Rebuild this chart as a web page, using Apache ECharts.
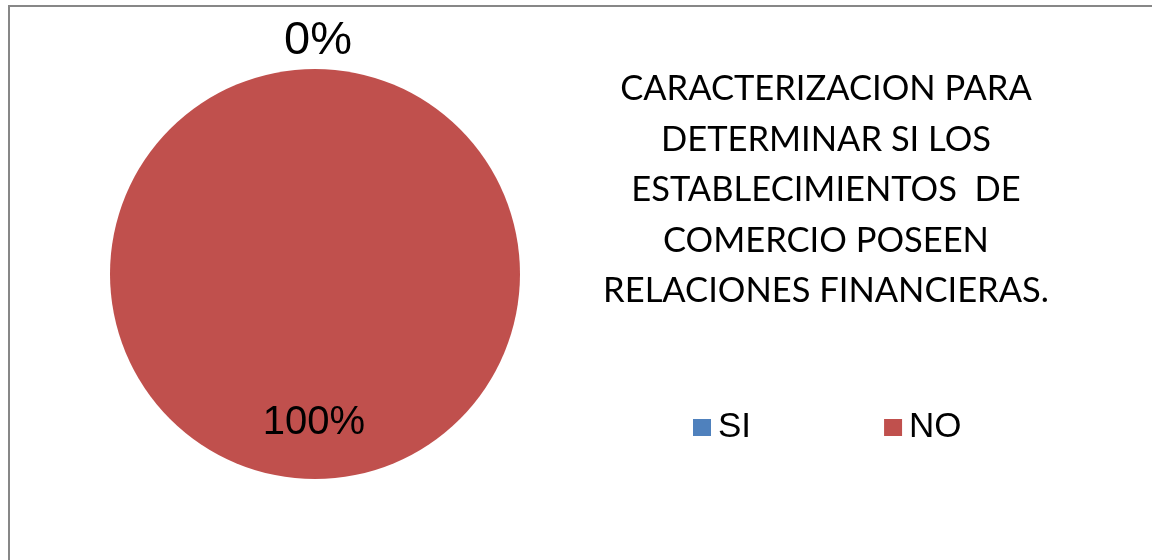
<!DOCTYPE html>
<html>
<head>
  <meta charset="utf-8">
  <script src="https://cdn.jsdelivr.net/npm/echarts@6/dist/echarts.min.js"></script>
  <style>
    body { margin: 0; background: #fff; }
    #frame { position: absolute; left: 8px; top: 5px; width: 2000px; height: 2000px; border: 2px solid #878787; }
    #chart { position: absolute; left: 0; top: 0; width: 1152px; height: 560px; }
  </style>
</head>
<body>
  <div id="frame"></div>
  <div id="chart"></div>
  <script>
    // datos del grafico
    var categories = ['SI', 'NO'];
    var values = [0, 100];
    var colors = ['#4F81BD', '#C0504D'];
    var titleLines = [
      'CARACTERIZACION PARA',
      'DETERMINAR SI LOS',
      'ESTABLECIMIENTOS  DE',
      'COMERCIO POSEEN',
      'RELACIONES FINANCIERAS.'
    ];

    var chart = echarts.init(document.getElementById('chart'));

    var pieData = categories.map(function (name, i) {
      var item = { name: name, value: values[i], itemStyle: { color: colors[i] } };
      if (values[i] === 0) {
        item.label = { fontSize: 47, offset: [3, -127] };
      } else {
        item.label = { fontSize: 40, offset: [-1, 43] };
      }
      return item;
    });

    var option = {
      animation: false,
      title: {
        text: titleLines.join('\n'),
        left: 821,
        top: 59,
        textAlign: 'center',
        textStyle: {
          fontFamily: 'Lato',
          fontWeight: 'normal',
          fontSize: 34.5,
          lineHeight: 50.5,
          color: '#000'
        }
      },
      legend: {
        data: categories,
        left: 688,
        top: 405,
        icon: 'rect',
        itemWidth: 18,
        itemHeight: 17,
        itemGap: 133,
        textStyle: { fontFamily: 'Liberation Sans', fontSize: 35, color: '#000', padding: [0, 0, 0, 2] }
      },
      series: [{
        type: 'pie',
        center: [315, 274],
        radius: 205,
        startAngle: 90,
        clockwise: true,
        data: pieData,
        label: {
          show: true,
          position: 'inside',
          formatter: function (p) { return Math.round(p.percent) + '%'; },
          fontFamily: 'Liberation Sans',
          color: '#000'
        },
        labelLine: { show: false },
        itemStyle: { borderWidth: 0 }
      }]
    };

    chart.setOption(option);
  </script>
</body>
</html>
